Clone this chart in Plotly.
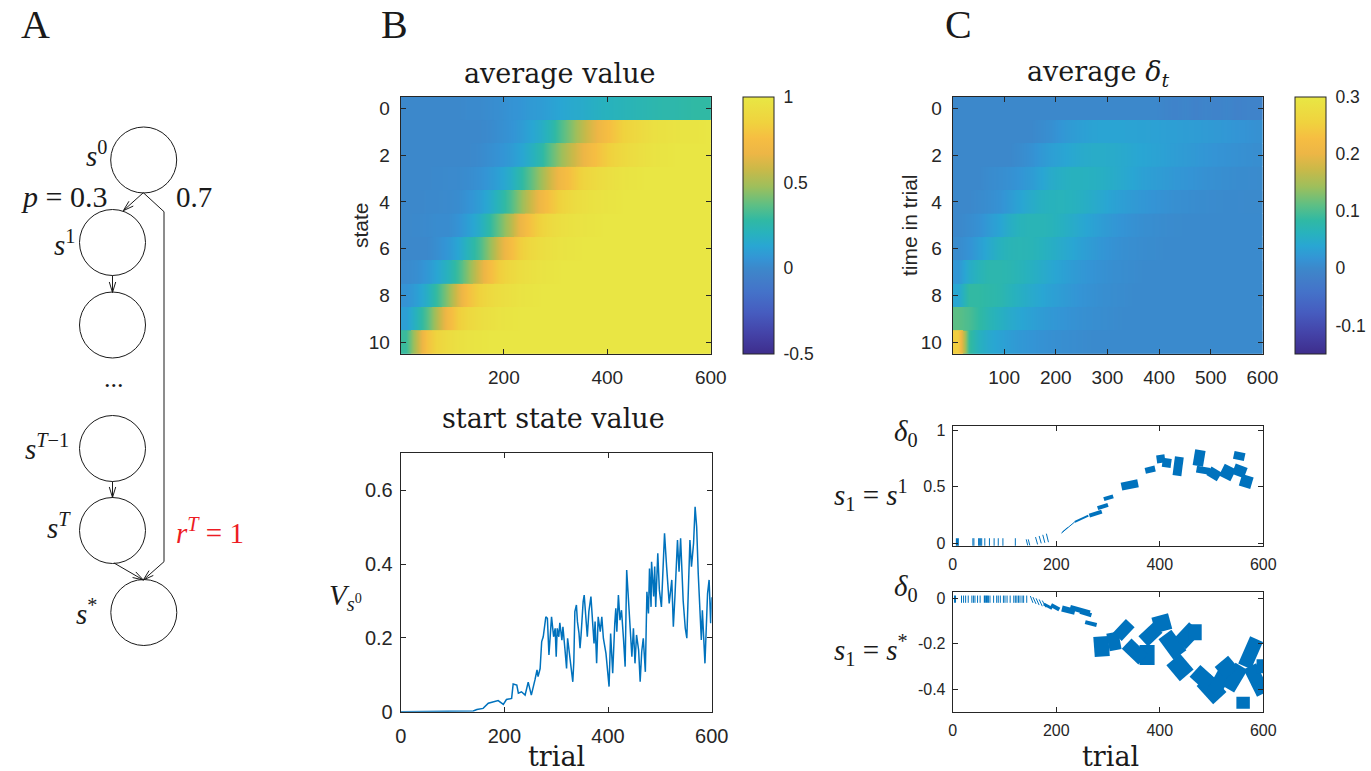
import math
import plotly.graph_objects as go

W, H = 1371, 771

# ------------------------------------------------------------------ data
states = [0, 1, 2, 3, 4, 5, 6, 7, 8, 9, 10]
trial_bins = [10.5, 30.5, 50.5, 70.5, 90.5, 110.5, 130.5, 150.5, 170.5, 190.5,
              210.5, 230.5, 250.5, 270.5, 290.5, 310.5, 330.5, 350.5, 370.5, 390.5,
              410.5, 430.5, 450.5, 470.5, 490.5, 510.5, 530.5, 550.5, 570.5, 590.5]

# average value per state (rows) and trial bin (columns)
value_s0 = [0, 0, 0, 0, 0, 0, 0.01, 0.01, 0.02, 0.03, 0.05, 0.06, 0.08, 0.09, 0.11,
            0.13, 0.15, 0.16, 0.18, 0.2, 0.21, 0.22, 0.23, 0.24, 0.25, 0.26, 0.26, 0.27, 0.28, 0.28]
value_s1 = [0, 0, 0, 0, 0, 0, 0, 0, 0.01, 0.03, 0.05, 0.08, 0.12, 0.17, 0.24,
            0.34, 0.44, 0.54, 0.63, 0.72, 0.79, 0.85, 0.89, 0.92, 0.95, 0.96, 0.97, 0.98, 0.98, 0.99]
value_s2 = [0, 0, 0, 0, 0, 0, 0, 0.01, 0.03, 0.05, 0.08, 0.12, 0.18, 0.26, 0.37,
            0.47, 0.57, 0.66, 0.74, 0.81, 0.86, 0.9, 0.93, 0.95, 0.97, 0.98, 0.99, 0.99, 0.99, 0.99]
value_s3 = [0, 0, 0, 0.005, 0.008, 0.01, 0.02, 0.04, 0.07, 0.11, 0.17, 0.26, 0.36, 0.48, 0.6,
            0.71, 0.79, 0.86, 0.9, 0.93, 0.95, 0.97, 0.98, 0.99, 0.99, 0.99, 0.99, 0.99, 0.99, 0.99]
value_s4 = [0, 0, 0.003, 0.006, 0.01, 0.02, 0.05, 0.09, 0.15, 0.23, 0.33, 0.45, 0.57, 0.7, 0.79,
            0.86, 0.91, 0.94, 0.96, 0.97, 0.98, 0.99, 0.99, 0.99, 0.99, 0.99, 0.99, 0.99, 0.99, 0.99]
value_s5 = [0, 0.005, 0.01, 0.02, 0.02, 0.05, 0.1, 0.17, 0.27, 0.39, 0.52, 0.67, 0.78, 0.86, 0.91,
            0.94, 0.96, 0.97, 0.98, 0.99, 0.99, 0.99, 0.99, 0.99, 0.99, 0.99, 0.99, 0.99, 0.99, 0.99]
value_s6 = [0, 0, 0, 0.03, 0.07, 0.13, 0.22, 0.32, 0.45, 0.6, 0.74, 0.83, 0.89, 0.93, 0.95,
            0.97, 0.98, 0.99, 0.99, 0.99, 0.99, 0.99, 0.99, 0.99, 0.99, 0.99, 0.99, 0.99, 0.99, 0.99]
value_s7 = [0.01, 0.03, 0.07, 0.13, 0.21, 0.31, 0.44, 0.6, 0.74, 0.83, 0.89, 0.93, 0.95, 0.97, 0.98,
            0.99, 0.99, 0.99, 0.99, 0.99, 0.99, 0.99, 0.99, 0.99, 0.99, 0.99, 0.99, 0.99, 0.99, 0.99]
value_s8 = [0.05, 0.1, 0.18, 0.3, 0.45, 0.62, 0.77, 0.85, 0.9, 0.93, 0.95, 0.97, 0.98, 0.99, 0.99,
            0.99, 0.99, 0.99, 0.99, 0.99, 0.99, 0.99, 0.99, 0.99, 0.99, 0.99, 0.99, 0.99, 0.99, 0.99]
value_s9 = [0.1, 0.22, 0.35, 0.52, 0.72, 0.83, 0.89, 0.93, 0.95, 0.97, 0.98, 0.99, 0.99, 0.99, 0.99,
            0.99, 0.99, 0.99, 0.99, 0.99, 0.99, 0.99, 0.99, 0.99, 0.99, 0.99, 0.99, 0.99, 0.99, 0.99]
value_s10 = [0.3, 0.55, 0.78, 0.87, 0.92, 0.95, 0.97, 0.98, 0.99, 0.99, 0.99, 0.99, 0.99, 0.99, 0.99,
             0.99, 0.99, 0.99, 0.99, 0.99, 0.99, 0.99, 0.99, 0.99, 0.99, 0.99, 0.99, 0.99, 0.99, 0.99]
value_map = [value_s0, value_s1, value_s2, value_s3, value_s4, value_s5,
             value_s6, value_s7, value_s8, value_s9, value_s10]

# average TD error per time in trial (rows) and trial bin (columns)
delta_t0 = [0, 0, 0, 0, 0, 0, 0, 0, 0, 0, 0, 0, 0, 0, 0, 0, 0, 0, 0, 0,
            -0.005, -0.01, -0.004, -0.012, -0.006, -0.01, -0.004, -0.012, -0.008, -0.01]
delta_t1 = [0, 0, 0, 0, 0, 0, 0, 0, 0.005, 0.01, 0.02, 0.026, 0.031, 0.035, 0.037, 0.037, 0.036, 0.035,
            0.034, 0.033, 0.031, 0.03, 0.028, 0.027, 0.025, 0.023, 0.021, 0.018, 0.015, 0.012]
delta_t2 = [0, 0, 0, 0, 0, 0, 0.005, 0.012, 0.022, 0.03, 0.036, 0.042, 0.047, 0.05, 0.05, 0.048, 0.045,
            0.041, 0.038, 0.035, 0.032, 0.028, 0.025, 0.022, 0.019, 0.016, 0.014, 0.012, 0.01, 0.008]
delta_t3 = [0, 0, 0, 0.005, 0.008, 0.012, 0.018, 0.026, 0.037, 0.048, 0.055, 0.06, 0.06, 0.058, 0.055,
            0.05, 0.044, 0.038, 0.032, 0.028, 0.025, 0.021, 0.018, 0.015, 0.012, 0.01, 0.008, 0.006, 0.005, 0.004]
delta_t4 = [0, 0, 0.004, 0.008, 0.014, 0.025, 0.037, 0.048, 0.057, 0.062, 0.064, 0.061, 0.056, 0.049,
            0.042, 0.035, 0.029, 0.024, 0.02, 0.016, 0.013, 0.01, 0.008, 0.006, 0.005, 0.004, 0.003, 0.003, 0.002, 0.002]
delta_t5 = [0, 0.006, 0.013, 0.025, 0.038, 0.053, 0.064, 0.068, 0.068, 0.065, 0.058, 0.05, 0.042, 0.034,
            0.027, 0.021, 0.016, 0.012, 0.009, 0.007, 0.005, 0.004, 0.003, 0.003, 0.003, 0.003, 0.003, 0.003, 0.003, 0.003]
delta_t6 = [0.005, 0.015, 0.03, 0.045, 0.06, 0.068, 0.07, 0.068, 0.062, 0.055, 0.047, 0.04, 0.032, 0.025,
            0.019, 0.014, 0.01, 0.008, 0.006, 0.005, 0.003, 0.003, 0.003, 0.003, 0.003, 0.003, 0.003, 0.003, 0.003, 0.003]
delta_t7 = [0.02, 0.05, 0.065, 0.075, 0.075, 0.072, 0.066, 0.058, 0.05, 0.042, 0.034, 0.027, 0.021, 0.016,
            0.012, 0.009, 0.007, 0.005, 0.003, 0.003, 0.003, 0.003, 0.003, 0.003, 0.003, 0.003, 0.003, 0.003, 0.003, 0.003]
delta_t8 = [0.04, 0.085, 0.085, 0.08, 0.075, 0.065, 0.056, 0.047, 0.04, 0.033, 0.027, 0.021, 0.016, 0.012,
            0.009, 0.007, 0.005, 0.003, 0.003, 0.003, 0.003, 0.003, 0.003, 0.003, 0.003, 0.003, 0.003, 0.003, 0.003, 0.003]
delta_t9 = [0.11, 0.1, 0.085, 0.07, 0.058, 0.048, 0.04, 0.033, 0.027, 0.022, 0.018, 0.014, 0.011, 0.009,
            0.007, 0.005, 0.003, 0.003, 0.003, 0.003, 0.003, 0.003, 0.003, 0.003, 0.003, 0.003, 0.003, 0.003, 0.003, 0.003]
delta_t10 = [0.25, 0.09, 0.06, 0.045, 0.035, 0.028, 0.022, 0.018, 0.014, 0.011, 0.009, 0.007, 0.005, 0.003,
             0.003, 0.003, 0.003, 0.003, 0.003, 0.003, 0.003, 0.003, 0.003, 0.003, 0.003, 0.003, 0.003, 0.003, 0.003, 0.003]
delta_map = [delta_t0, delta_t1, delta_t2, delta_t3, delta_t4, delta_t5,
             delta_t6, delta_t7, delta_t8, delta_t9, delta_t10]

# start state value V_{s0} over trials
v_trial = [0, 100, 140, 147, 159, 169, 178, 188, 198, 204, 214, 217, 224, 227, 233, 240, 246, 252,
           259, 263, 265, 269, 272, 275, 280, 283, 286, 289, 291, 295, 298, 300, 302, 305, 307, 311,
           313, 317, 320, 322, 325, 328, 332, 334, 336, 339, 341, 344, 346, 348, 350, 352, 354, 357,
           360, 363, 367, 370, 373, 375, 378, 381, 385, 388, 391, 396, 400, 402, 405, 409, 413, 415,
           417, 420, 423, 426, 430, 433, 436, 439, 443, 446, 449, 452, 455, 459, 462, 465, 468, 472,
           475, 478, 480, 483, 484, 488, 490, 492, 496, 499, 503, 506, 509,
           513, 518, 523, 526, 529, 534, 537, 540, 545, 549, 552, 555, 558, 561, 565, 568, 571, 574,
           580, 582, 587, 592, 595, 598, 600]
v_start = [0, 0, 0.002, 0.006, 0.009, 0.023, 0.027, 0.03, 0.02, 0.033, 0.036, 0.075, 0.072, 0.05,
           0.054, 0.045, 0.08, 0.045,
           0.086, 0.113, 0.095, 0.117, 0.19, 0.203, 0.257, 0.253, 0.154, 0.217, 0.257, 0.203, 0.226,
           0.149, 0.226, 0.203, 0.241, 0.194, 0.23, 0.167, 0.117, 0.199, 0.163, 0.122, 0.081, 0.135,
           0.271, 0.289, 0.244, 0.212, 0.172, 0.208, 0.275, 0.298, 0.316, 0.248, 0.203, 0.271, 0.312,
           0.248, 0.185, 0.244, 0.131, 0.257, 0.217, 0.257, 0.199, 0.158, 0.104, 0.068, 0.212, 0.104,
           0.239, 0.28, 0.217, 0.316, 0.248, 0.275, 0.194, 0.122, 0.384, 0.312, 0.226, 0.149, 0.226,
           0.131, 0.208, 0.167, 0.081, 0.163, 0.199, 0.108, 0.325, 0.266, 0.388, 0.284, 0.406, 0.312,
           0.393, 0.284, 0.429, 0.33, 0.284, 0.411, 0.483,
           0.393, 0.293, 0.357, 0.23, 0.31, 0.465, 0.379, 0.47, 0.3, 0.226, 0.199, 0.348, 0.465,
           0.393, 0.456, 0.555, 0.5, 0.375, 0.194, 0.275, 0.131, 0.32, 0.357, 0.24, 0.31]

# delta_0 strokes for trials with s1 = s^1  (start trial, start value, end trial, end value)
up_t0 = [9, 39, 41, 50, 52, 54, 56, 62, 71, 80, 88, 97, 121, 142, 146, 160, 167, 174, 181,
         210, 212, 236, 264, 280, 292, 326, 372, 394, 405, 427, 466, 471, 495, 520, 543, 543, 556]
up_d0 = [-0.03, -0.03, -0.03, -0.03, -0.03, -0.03, -0.03, -0.03, -0.03, -0.03, -0.03, -0.03, -0.03,
         0.035, 0.035, 0.055, 0.065, 0.075, 0.085,
         0.09, 0.1, 0.19, 0.245, 0.31, 0.39, 0.5, 0.64, 0.74, 0.715, 0.685, 0.76, 0.655, 0.64, 0.65,
         0.78, 0.66, 0.56]
up_t1 = [9, 39, 41, 50, 52, 54, 56, 62, 71, 80, 88, 97, 121, 145, 149, 164, 171, 178, 185,
         236, 222, 262, 288, 300, 310, 358, 391, 410, 422, 444, 486, 497, 515, 542, 564, 566, 578]
up_d1 = [0.045, 0.045, 0.045, 0.045, 0.045, 0.045, 0.045, 0.045, 0.045, 0.045, 0.045, 0.045, 0.045,
         -0.02, -0.02, -0.01, 0.0, 0.005, 0.01,
         0.19, 0.14, 0.245, 0.28, 0.34, 0.415, 0.53, 0.66, 0.75, 0.705, 0.675, 0.745, 0.635, 0.585, 0.6,
         0.76, 0.62, 0.53]
up_thick = [3, 1, 1, 1, 1, 1, 1, 1, 1, 1, 1, 1, 1, 1, 1, 1, 1, 1, 1,
            1, 1, 2, 4, 4, 4, 8, 6, 8, 9, 19, 16, 7, 10, 13, 8, 11, 12]

# delta_0 strokes for trials with s1 = s*
dn_t0 = [4.5, 17, 21, 25, 30, 37, 40, 43, 48, 53, 62, 66, 69, 72, 79, 85, 88, 92, 98, 101, 105, 111,
         118, 121, 124, 127, 130, 134, 137, 143, 150, 155, 161, 167, 173,
         176, 190, 211, 227, 246, 256,
         273, 300, 318, 336, 361, 368, 388, 410, 426, 439, 455, 468, 484, 503, 516, 532, 548, 564, 574, 587]
dn_d0 = [0.012, 0.012, 0.012, 0.012, 0.012, 0.012, 0.012, 0.012, 0.012, 0.012, 0.012, 0.012, 0.012,
         0.012, 0.012, 0.012, 0.012, 0.012, 0.012, 0.012, 0.012, 0.012, 0.012, 0.012, 0.012, 0.012,
         0.012, 0.012, 0.012, 0.012, 0.01, 0.005, 0.0, -0.005, -0.01,
         -0.025, -0.03, -0.045, -0.04, -0.06, -0.105,
         -0.215, -0.195, -0.17, -0.2, -0.25, -0.19, -0.12, -0.16, -0.27, -0.2, -0.15, -0.32, -0.36,
         -0.42, -0.33, -0.4, -0.46, -0.3, -0.3, -0.3]
dn_t1 = [4.5, 17, 21, 25, 30, 37, 40, 43, 48, 53, 62, 66, 69, 72, 79, 85, 88, 92, 98, 101, 105, 111,
         118, 121, 124, 127, 130, 134, 137, 143, 155, 161, 167, 173, 180,
         192, 206, 236, 265, 268, 278,
         302, 323, 343, 368, 390, 396, 420, 439, 452, 468, 481, 497, 516, 532, 542, 558, 574, 587, 600, 606]
dn_d1 = [-0.02, -0.02, -0.02, -0.02, -0.02, -0.02, -0.02, -0.02, -0.02, -0.02, -0.02, -0.02, -0.02,
         -0.02, -0.02, -0.02, -0.02, -0.02, -0.02, -0.02, -0.02, -0.02, -0.02, -0.02, -0.02, -0.02,
         -0.02, -0.02, -0.02, -0.02, -0.02, -0.025, -0.03, -0.035, -0.04,
         -0.045, -0.05, -0.06, -0.065, -0.075, -0.118,
         -0.21, -0.185, -0.11, -0.27, -0.25, -0.13, -0.1, -0.25, -0.34, -0.13, -0.15, -0.38, -0.44,
         -0.3, -0.28, -0.3, -0.46, -0.18, -0.42, -0.3]
dn_thick = [2, 1, 1, 1, 1, 1, 1, 1, 1, 1, 2, 2, 1, 1, 1, 1, 1, 1, 1, 1, 1, 1,
            1, 1, 1, 1, 1, 1, 1, 1, 1, 1, 1, 1, 1,
            3, 4, 6, 5, 4, 4,
            20, 18, 12, 14, 20, 14, 16, 16, 18, 16, 16, 16, 18, 14, 16, 14, 12, 14, 14, 14]

heat_ticks_x_b = [200, 400, 600]
heat_ticks_x_c = [100, 200, 300, 400, 500, 600]
state_ticks = [0, 2, 4, 6, 8, 10]
cbar_b_vals = [-0.5, 0, 0.5, 1]
cbar_b_text = ['-0.5', '0', '0.5', '1']
cbar_c_vals = [-0.1, 0, 0.1, 0.2, 0.3]
cbar_c_text = ['-0.1', '0', '0.1', '0.2', '0.3']
v_ticks = [0, 0.2, 0.4, 0.6]
v_tick_text = ['0', '0.2', '0.4', '0.6']
trial_ticks = [0, 200, 400, 600]
up_ticks = [0, 0.5, 1]
up_tick_text = ['0', '0.5', '1']
dn_ticks = [-0.4, -0.2, 0]
dn_tick_text = ['-0.4', '-0.2', '0']

# ------------------------------------------------------------------ styling
SANS = 'Liberation Sans, Arial, sans-serif'
SERIF = 'DejaVu Serif, serif'
MATH = 'Liberation Serif, Times New Roman, serif'
INK = '#262626'
LINE_BLUE = '#0072BD'

PARULA = [
    [0.00, '#3e2d8c'], [0.08, '#4443a8'], [0.16, '#465cbf'], [0.24, '#4472c9'],
    [0.30, '#4180c9'], [0.333, '#3c88cb'], [0.37, '#3494d5'], [0.42, '#29a6d3'],
    [0.47, '#28b2bd'], [0.52, '#30b9a4'], [0.58, '#5ebf84'], [0.65, '#9dbf5c'],
    [0.72, '#cbb948'], [0.78, '#edb646'], [0.84, '#f6be42'], [0.90, '#f0d23e'],
    [1.00, '#e8e744'],
]


def fx(px):
    return px / W


def fy(py):
    return 1 - py / H


fig = go.Figure()

# --- B: average value heatmap: coarse base, then one smoothed strip per state
fig.add_trace(go.Heatmap(x=trial_bins, y=states, z=value_map, coloraxis='coloraxis',
                         xaxis='x', yaxis='y', hoverinfo='skip'))
for k, row in zip(states, value_map):
    fig.add_trace(go.Heatmap(x=trial_bins, y0=k, dy=1, z=[row], coloraxis='coloraxis',
                             zsmooth='best', xaxis='x', yaxis='y', hoverinfo='skip'))

# --- C: average delta heatmap
fig.add_trace(go.Heatmap(x=trial_bins, y=states, z=delta_map, coloraxis='coloraxis2',
                         xaxis='x2', yaxis='y2', hoverinfo='skip'))
for k, row in zip(states, delta_map):
    fig.add_trace(go.Heatmap(x=trial_bins, y0=k, dy=1, z=[row], coloraxis='coloraxis2',
                             zsmooth='best', xaxis='x2', yaxis='y2', hoverinfo='skip'))

# --- B: start state value
fig.add_trace(go.Scatter(x=v_trial, y=v_start, mode='lines',
                         line=dict(color=LINE_BLUE, width=1.5),
                         xaxis='x3', yaxis='y3', hoverinfo='skip'))


def add_strokes(t0, d0, t1, d1, thick, xa, ya):
    groups = {}
    for a, b, c, d, w in zip(t0, d0, t1, d1, thick):
        g = groups.setdefault(w, ([], []))
        g[0].extend([a, c, None])
        g[1].extend([b, d, None])
    for w, (xs, ys) in groups.items():
        fig.add_trace(go.Scatter(x=xs, y=ys, mode='lines', connectgaps=False,
                                 line=dict(color=LINE_BLUE, width=w),
                                 xaxis=xa, yaxis=ya, hoverinfo='skip'))


add_strokes(up_t0, up_d0, up_t1, up_d1, up_thick, 'x4', 'y4')
add_strokes(dn_t0, dn_d0, dn_t1, dn_d1, dn_thick, 'x5', 'y5')

common = dict(showline=True, linecolor=INK, linewidth=1, mirror='ticks', ticks='inside',
              ticklen=5, tickwidth=1, tickcolor=INK, showgrid=False, zeroline=False)


def tf(size):
    return dict(family=SANS, size=size, color=INK)


def cbar(x_px, vals, text):
    return dict(x=fx(x_px), xanchor='left', xpad=0, y=fy(97), yanchor='top', ypad=0,
                len=257, lenmode='pixels', thickness=31, thicknessmode='pixels',
                outlinewidth=1, outlinecolor=INK, ticks='outside', ticklen=6,
                tickcolor='rgba(0,0,0,0)', tickvals=vals, ticktext=text, tickfont=tf(17.5))


fig.update_layout(
    width=W, height=H, margin=dict(l=0, r=0, t=0, b=0, autoexpand=False),
    paper_bgcolor='white', plot_bgcolor='white', showlegend=False,
    coloraxis=dict(colorscale=PARULA, cmin=-0.5, cmax=1,
                   colorbar=cbar(743, cbar_b_vals, cbar_b_text)),
    coloraxis2=dict(colorscale=PARULA, cmin=-0.15, cmax=0.3,
                    colorbar=cbar(1295, cbar_c_vals, cbar_c_text)),
    xaxis=dict(domain=[fx(400.7), fx(711)], range=[0.5, 600.5], tickvals=heat_ticks_x_b,
               anchor='y', tickfont=tf(19), ticklabelstandoff=6, **common),
    yaxis=dict(domain=[fy(354), fy(96.7)], range=[10.5, -0.5], tickvals=state_ticks,
               anchor='x', tickfont=tf(19), ticklabelstandoff=6, **common),
    xaxis2=dict(domain=[fx(952.7), fx(1262.7)], range=[0.5, 600.5], tickvals=heat_ticks_x_c,
                anchor='y2', tickfont=tf(19), ticklabelstandoff=6, **common),
    yaxis2=dict(domain=[fy(354), fy(96.7)], range=[10.5, -0.5], tickvals=state_ticks,
                anchor='x2', tickfont=tf(19), ticklabelstandoff=6, **common),
    xaxis3=dict(domain=[fx(400.7), fx(711.7)], range=[0, 600], tickvals=trial_ticks,
                anchor='y3', tickfont=tf(20), ticklabelstandoff=6, **common),
    yaxis3=dict(domain=[fy(711.7), fy(453.3)], range=[0, 0.7], tickvals=v_ticks,
                ticktext=v_tick_text, anchor='x3', tickfont=tf(20), ticklabelstandoff=3, **common),
    xaxis4=dict(domain=[fx(952.7), fx(1263.3)], range=[0, 600], tickvals=trial_ticks,
                anchor='y4', tickfont=tf(16), ticklabelstandoff=4, **common),
    yaxis4=dict(domain=[fy(545.7), fy(425.7)], range=[-0.021, 1.038], tickvals=up_ticks,
                ticktext=up_tick_text, anchor='x4', tickfont=tf(16), ticklabelstandoff=3, **common),
    xaxis5=dict(domain=[fx(952.7), fx(1263.3)], range=[0, 600], tickvals=trial_ticks,
                anchor='y5', tickfont=tf(16), ticklabelstandoff=4, **common),
    yaxis5=dict(domain=[fy(711.7), fy(591.7)], range=[-0.5, 0.029], tickvals=dn_ticks,
                ticktext=dn_tick_text, anchor='x5', tickfont=tf(16), ticklabelstandoff=3, **common),
)


# ------------------------------------------------------------------ text
def label(text, x, y, size, family, color='#1a1a1a', xanchor='center', yanchor='middle', angle=0):
    return dict(text=text, x=fx(x), y=fy(y), xref='paper', yref='paper', showarrow=False,
                xanchor=xanchor, yanchor=yanchor, textangle=angle,
                font=dict(size=size, family=family, color=color))


annotations = [
    label('A', 35, 25, 40, MATH),
    label('B', 394, 25, 40, MATH),
    label('C', 958, 25, 40, MATH),
    label('average value', 560, 73, 27, SERIF),
    label('average <i>δ</i><sub><i>t</i></sub>', 1098, 73, 27, SERIF),
    label('start state value', 553, 419, 27, SERIF),
    label('trial', 556, 756, 27, SERIF),
    label('trial', 1110, 756, 27, SERIF),
    label('state', 360, 225, 21, SANS, color=INK, angle=-90),
    label('time in trial', 909, 225, 21, SANS, color=INK, angle=-90),
    label('<i>V</i><sub><i>s</i><sup>0</sup></sub>', 364, 597, 29, MATH, xanchor='right'),
    label('<i>δ</i><sub>0</sub>', 906, 433, 29, MATH),
    label('<i>s</i><sub>1</sub> = <i>s</i><sup>1</sup>', 910, 495, 29, MATH, xanchor='right'),
    label('<i>δ</i><sub>0</sub>', 906, 588, 29, MATH),
    label('<i>s</i><sub>1</sub> = <i>s</i><sup>*</sup>', 910, 650, 29, MATH, xanchor='right'),
    # diagram labels
    label('<i>s</i><sup>0</sup>', 109, 154, 29, MATH, xanchor='right'),
    label('<i>p</i> = 0.3', 109, 197, 30, MATH, xanchor='right'),
    label('0.7', 174, 197, 29, MATH, xanchor='left'),
    label('<i>s</i><sup>1</sup>', 77, 243, 29, MATH, xanchor='right'),
    label('...', 114, 378, 26, MATH),
    label('<i>s</i><sup><i>T</i>−1</sup>', 71, 447, 29, MATH, xanchor='right'),
    label('<i>s</i><sup><i>T</i></sup>', 73, 526, 29, MATH, xanchor='right'),
    label('<i>r</i><sup><i>T</i></sup> = 1', 174, 531, 29, MATH, color='#ed1c24', xanchor='left'),
    label('<i>s</i><sup>*</sup>', 99, 612, 29, MATH, xanchor='right'),
]

# ------------------------------------------------------------------ diagram A
diagram_nodes = [(143.7, 160), (112.5, 242.5), (112.5, 325), (112.5, 448.5),
                 (112.5, 530.5), (143.8, 612.5)]
node_r = 33
diagram_edges = [
    [(143.3, 192.7), (123.3, 210.7)],
    [(143.3, 192.7), (164, 211.7), (164, 561.7), (143.3, 580)],
    [(112.5, 275.5), (112.5, 292.5)],
    [(112.5, 481.5), (112.5, 497.5)],
    [(114, 563), (143.3, 580)],
]

shapes = []
for cx, cy in diagram_nodes:
    shapes.append(dict(type='circle', xref='paper', yref='paper',
                       x0=fx(cx - node_r), x1=fx(cx + node_r),
                       y0=fy(cy + node_r), y1=fy(cy - node_r),
                       line=dict(color='#1a1a1a', width=1)))


def pth(points):
    return 'M ' + ' L '.join(f'{fx(x):.6f},{fy(y):.6f}' for x, y in points)


for pts in diagram_edges:
    shapes.append(dict(type='path', xref='paper', yref='paper', path=pth(pts),
                       line=dict(color='#1a1a1a', width=1)))
    (sx, sy), (ex, ey) = pts[-2], pts[-1]
    d = math.hypot(ex - sx, ey - sy)
    ux, uy = (ex - sx) / d, (ey - sy) / d
    L, a = 11, math.radians(17)
    head = []
    for s in (1, -1):
        ca, sa = math.cos(s * a), math.sin(s * a)
        rx, ry = ux * ca - uy * sa, ux * sa + uy * ca
        head.append((ex - L * rx, ey - L * ry))
    shapes.append(dict(type='path', xref='paper', yref='paper',
                       path=pth([head[0], (ex, ey), head[1]]),
                       line=dict(color='#1a1a1a', width=1)))

fig.update_layout(annotations=annotations, shapes=shapes)

fig.write_html('out.html')
